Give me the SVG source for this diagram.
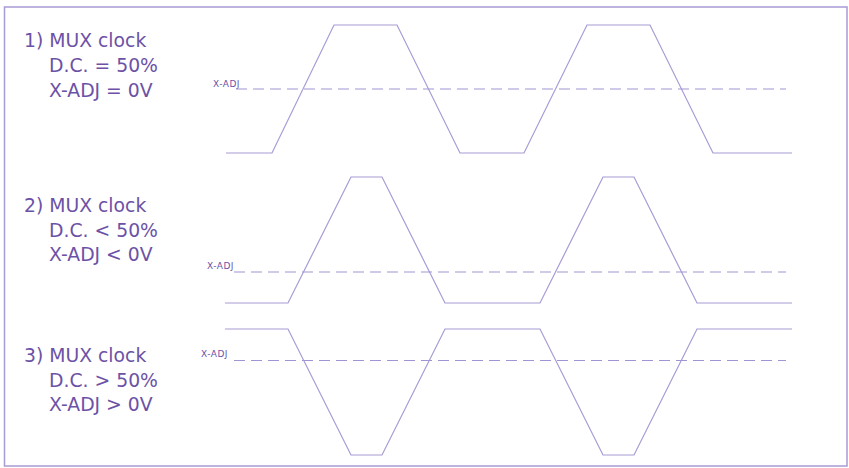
<svg xmlns="http://www.w3.org/2000/svg" width="849" height="468" viewBox="0 0 849 468">
<style>
.lbl{font-family:"DejaVu Sans","Verdana",sans-serif;font-size:18.8px;fill:#6c52a6}
.xadj{font-family:"DejaVu Sans","Verdana",sans-serif;font-size:9px;fill:#6c52a6;letter-spacing:0.5px}
.wave{fill:none;stroke:#a89bd6;stroke-width:1.2;stroke-linejoin:miter}
.dash{fill:none;stroke:#a293d4;stroke-width:1.2;stroke-dasharray:11,6}
</style>
<rect x="0" y="0" width="849" height="468" fill="#ffffff"/>
<rect x="4.5" y="7" width="842.5" height="459" fill="none" stroke="#a99bd3" stroke-width="1.5"/>
<g id="case1">
<text class="lbl" x="24" y="47">1) MUX clock</text>
<text class="lbl" x="49" y="72">D.C. = 50%</text>
<text class="lbl" x="49" y="97">X-ADJ = 0V</text>
<text class="xadj" x="213" y="87">X-ADJ</text>
<line class="dash" x1="236" y1="89" x2="786" y2="89"/>
<polyline class="wave" points="226,153 272,153 334,25 397,25 460,153 524,153 587,25 650,25 713,153 792,153"/>
</g>
<g id="case2">
<text class="lbl" x="24" y="212">2) MUX clock</text>
<text class="lbl" x="49" y="237">D.C. &lt; 50%</text>
<text class="lbl" x="49" y="261">X-ADJ &lt; 0V</text>
<text class="xadj" x="207" y="269">X-ADJ</text>
<line class="dash" x1="234" y1="272" x2="786" y2="272"/>
<polyline class="wave" points="225,303 288,303 351,177 382,177 445,303 540,303 603,177 634,177 697,303 792,303"/>
</g>
<g id="case3">
<text class="lbl" x="24" y="362">3) MUX clock</text>
<text class="lbl" x="49" y="387">D.C. &gt; 50%</text>
<text class="lbl" x="49" y="411">X-ADJ &gt; 0V</text>
<text class="xadj" x="201" y="357">X-ADJ</text>
<line class="dash" x1="234" y1="360.5" x2="786" y2="360.5"/>
<polyline class="wave" points="225,329 288,329 351,455 382,455 445,329 540,329 603,455 634,455 697,329 792,329"/>
</g>
</svg>
